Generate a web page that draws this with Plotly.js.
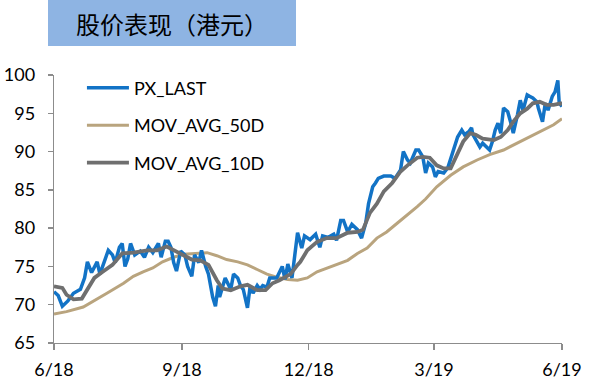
<!DOCTYPE html>
<html>
<head>
<meta charset="utf-8">
<script src="https://cdn.plot.ly/plotly-3.0.1.min.js"></script>
<style>html,body{margin:0;padding:0;background:#fff;}#chart{width:596px;height:385px;}</style>
</head>
<body>
<div id="chart"></div>
<script>
// PX_LAST (HKD)
const pxDates = ['2018-06-01','2018-06-04','2018-06-07','2018-06-11','2018-06-15','2018-06-20','2018-06-23','2018-06-25','2018-06-28','2018-07-02','2018-07-04','2018-07-07','2018-07-10','2018-07-13','2018-07-15','2018-07-18','2018-07-20','2018-07-22','2018-07-24','2018-07-26','2018-07-29','2018-08-02','2018-08-05','2018-08-08','2018-08-11','2018-08-15','2018-08-17','2018-08-20','2018-08-22','2018-08-24','2018-08-26','2018-08-28','2018-08-31','2018-09-03','2018-09-05','2018-09-08','2018-09-10','2018-09-13','2018-09-15','2018-09-18','2018-09-20','2018-09-23','2018-09-25','2018-09-27','2018-09-28','2018-10-02','2018-10-06','2018-10-08','2018-10-11','2018-10-13','2018-10-15','2018-10-18','2018-10-20','2018-10-22','2018-10-25','2018-10-27','2018-10-29','2018-11-01','2018-11-03','2018-11-08','2018-11-12','2018-11-14','2018-11-16','2018-11-19','2018-11-21','2018-11-23','2018-11-26','2018-11-28','2018-12-02','2018-12-06','2018-12-09','2018-12-11','2018-12-15','2018-12-19','2018-12-21','2018-12-24','2018-12-26','2018-12-29','2019-01-01','2019-01-05','2019-01-08','2019-01-11','2019-01-13','2019-01-16','2019-01-18','2019-01-20','2019-01-24','2019-01-29','2019-02-01','2019-02-05','2019-02-07','2019-02-10','2019-02-12','2019-02-16','2019-02-18','2019-02-21','2019-02-23','2019-02-25','2019-02-28','2019-03-02','2019-03-04','2019-03-08','2019-03-11','2019-03-15','2019-03-18','2019-03-21','2019-03-23','2019-03-26','2019-03-28','2019-03-29','2019-04-01','2019-04-03','2019-04-05','2019-04-08','2019-04-10','2019-04-12','2019-04-14','2019-04-16','2019-04-18','2019-04-20','2019-04-23','2019-04-25','2019-04-27','2019-04-30','2019-05-02','2019-05-04','2019-05-07','2019-05-09','2019-05-11','2019-05-14','2019-05-15','2019-05-18','2019-05-20','2019-05-22','2019-05-25','2019-05-27','2019-05-29','2019-05-30','2019-06-01'];
const pxLast = [71.7,71.2,69.8,70.5,71.5,72.0,73.5,75.6,74.2,75.6,74.0,75.5,77.1,76.5,75.5,77.5,78.0,75.0,76.0,78.0,76.5,77.0,76.2,77.5,76.8,78.0,76.2,78.3,78.3,77.5,75.5,74.4,77.0,76.5,75.0,73.7,76.5,75.5,77.1,75.0,74.0,71.0,69.8,72.5,71.0,73.5,72.0,74.0,73.5,72.5,72.0,69.6,72.5,71.5,72.5,72.0,72.5,72.3,73.5,73.5,75.0,73.3,75.3,73.5,76.5,79.4,77.4,79.0,78.5,79.2,77.5,79.0,78.8,79.2,78.4,81.0,81.0,79.5,80.5,79.8,78.7,80.7,83.2,85.4,85.9,86.5,86.8,86.8,86.5,87.6,90.0,88.9,88.5,90.2,90.2,89.3,87.2,88.5,88.0,86.7,87.4,87.2,87.9,90.0,91.9,92.8,92.2,92.6,93.1,92.2,91.3,90.6,91.1,90.5,90.2,91.3,92.8,93.7,92.4,95.7,95.2,93.9,92.4,94.8,96.7,95.4,97.4,97.2,97.0,96.5,95.7,93.9,96.3,95.4,97.2,97.8,99.3,96.3,95.9];

// MOV_AVG_50D
const ma50Dates = ['2018-06-01','2018-06-10','2018-06-22','2018-06-29','2018-07-09','2018-07-21','2018-07-28','2018-08-04','2018-08-11','2018-08-18','2018-08-26','2018-09-02','2018-09-09','2018-09-19','2018-09-26','2018-10-03','2018-10-11','2018-10-18','2018-10-25','2018-11-01','2018-11-08','2018-11-16','2018-11-23','2018-11-30','2018-12-07','2018-12-14','2018-12-21','2018-12-29','2019-01-05','2019-01-12','2019-01-19','2019-01-26','2019-02-03','2019-02-10','2019-02-17','2019-02-23','2019-03-03','2019-03-13','2019-03-22','2019-04-01','2019-04-10','2019-04-20','2019-04-30','2019-05-09','2019-05-19','2019-05-26','2019-06-01'];
const ma50 = [68.8,69.1,69.7,70.4,71.5,72.8,73.7,74.3,74.8,75.6,76.2,76.6,76.7,76.8,76.4,75.9,75.6,75.2,74.6,74.0,73.6,73.3,73.2,73.5,74.3,74.8,75.2,75.8,76.7,77.4,78.7,79.5,80.7,81.7,82.8,83.8,85.4,86.9,88.0,88.9,89.6,90.2,91.1,91.9,92.8,93.5,94.3];

// MOV_AVG_10D
const ma10Dates = ['2018-06-01','2018-06-07','2018-06-10','2018-06-15','2018-06-21','2018-06-25','2018-06-30','2018-07-06','2018-07-13','2018-07-20','2018-07-28','2018-08-07','2018-08-14','2018-08-21','2018-08-26','2018-09-02','2018-09-08','2018-09-14','2018-09-20','2018-09-26','2018-09-30','2018-10-06','2018-10-13','2018-10-18','2018-10-25','2018-10-31','2018-11-05','2018-11-10','2018-11-18','2018-11-23','2018-11-25','2018-11-30','2018-12-07','2018-12-14','2018-12-21','2018-12-29','2019-01-05','2019-01-09','2019-01-14','2019-01-19','2019-01-24','2019-01-30','2019-02-05','2019-02-10','2019-02-17','2019-02-21','2019-02-26','2019-03-03','2019-03-08','2019-03-13','2019-03-18','2019-03-22','2019-03-27','2019-03-31','2019-04-05','2019-04-13','2019-04-18','2019-04-23','2019-04-27','2019-05-02','2019-05-07','2019-05-11','2019-05-16','2019-05-21','2019-05-26','2019-05-31','2019-06-01'];
const ma10 = [72.4,72.2,71.3,70.7,70.8,71.9,73.5,74.3,75.2,76.7,76.8,77.1,77.1,77.6,77.1,76.4,75.9,75.8,75.2,73.2,72.1,71.9,72.4,72.6,71.9,71.9,72.8,73.2,74.0,75.2,75.6,77.1,78.2,78.7,78.7,79.4,79.5,79.8,82.0,83.2,84.8,85.9,87.4,88.2,89.2,89.3,89.2,88.2,87.8,87.8,89.6,91.3,92.4,92.2,91.7,91.5,91.9,92.8,93.9,95.0,95.6,96.3,96.5,96.1,96.1,96.3,96.1];

const xTickVals = ['2018-06-01','2018-09-01','2018-12-01','2019-03-01','2019-06-01'];
const xTickText = ['6/18','9/18','12/18','3/19','6/19'];
const seriesNames = ['PX_LAST','MOV_AVG_50D','MOV_AVG_10D'];
const titleText = '股价表现（港元）';

const FONT = 'Lato, "Liberation Sans", sans-serif';
const traces = [
  {x: pxDates, y: pxLast, name: seriesNames[0], type: 'scatter', mode: 'lines',
   line: {color: '#1273C6', width: 3.5}, legendgroup: 'a'},
  {x: ma50Dates, y: ma50, name: seriesNames[1], type: 'scatter', mode: 'lines',
   line: {color: '#B9A47E', width: 3}, legendgroup: 'b'},
  {x: ma10Dates, y: ma10, name: seriesNames[2], type: 'scatter', mode: 'lines',
   line: {color: '#6F6F6F', width: 3.8}, legendgroup: 'c'}
];
const ordered = [traces[1], traces[0], traces[2]];
traces[0].legendrank = 1; traces[1].legendrank = 2; traces[2].legendrank = 3;

const layout = {
  width: 596, height: 385,
  margin: {l: 54, r: 34, t: 75, b: 42},
  paper_bgcolor: '#fff', plot_bgcolor: '#fff',
  font: {family: FONT, size: 18, color: '#000'},
  showlegend: true,
  legend: {x: 0.055, y: 1.02, xanchor: 'left', yanchor: 'top', bgcolor: 'rgba(0,0,0,0)',
    font: {family: FONT, size: 18, color: '#000'}, traceorder: 'grouped', tracegroupgap: 11,
    itemwidth: 42},
  xaxis: {type: 'date', range: ['2018-06-01','2019-06-01'], tickvals: xTickVals, ticktext: xTickText,
    showgrid: false, zeroline: false, showline: true, linecolor: '#8C8C8C', linewidth: 1.3,
    ticks: 'outside', ticklen: 6, tickcolor: '#8C8C8C', tickwidth: 1.3, ticklabelstandoff: 4,
    tickfont: {family: FONT, size: 18, color: '#000'}},
  yaxis: {range: [65, 100], dtick: 5, tick0: 65, showgrid: false, zeroline: false,
    showline: true, linecolor: '#8C8C8C', linewidth: 1.3,
    ticks: 'outside', ticklen: 5, tickcolor: '#8C8C8C', tickwidth: 1.3, ticklabelstandoff: 9,
    tickfont: {family: FONT, size: 18, color: '#000'}},
  shapes: [{type: 'rect', xref: 'paper', yref: 'paper', x0: -0.0118, x1: 0.4764, y0: 1.1082, y1: 1.29,
    fillcolor: '#8EB4E3', line: {width: 0}, layer: 'below'}],
  annotations: [{xref: 'paper', yref: 'paper', x: 0.2323, y: 1.194, xanchor: 'center', yanchor: 'middle',
    text: titleText, showarrow: false,
    font: {family: '"Noto Sans CJK SC", sans-serif', size: 24, color: '#000'}}]
};
Plotly.newPlot('chart', ordered, layout, {displayModeBar: false, staticPlot: true});
</script>
</body>
</html>
